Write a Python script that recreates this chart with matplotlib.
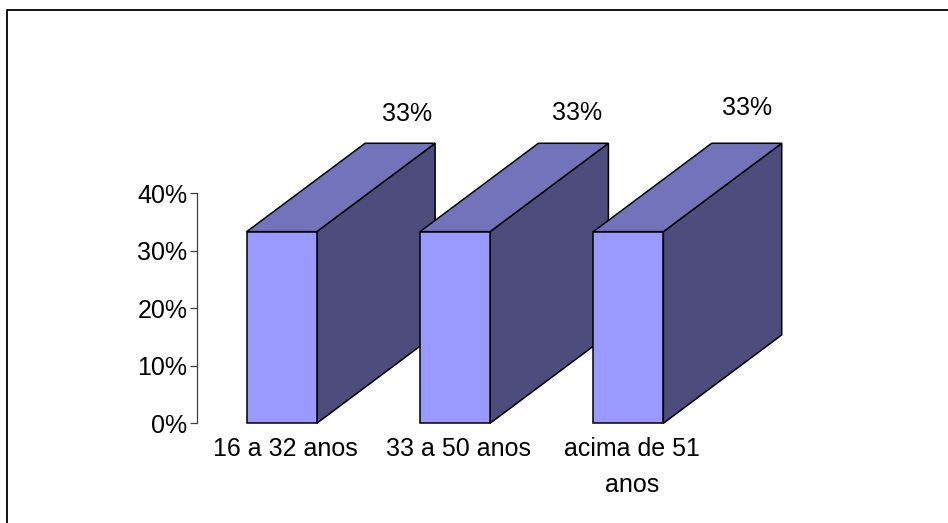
"""Distribuição por faixa etária, barras com efeito 3D desenhadas à mão."""
import matplotlib
matplotlib.use("Agg")
import matplotlib.pyplot as plt
from matplotlib.patches import Polygon
from matplotlib.lines import Line2D

plt.rcParams["font.family"] = ["Liberation Sans", "DejaVu Sans"]

categorias = ["16 a 32 anos", "33 a 50 anos", "acima de 51\nanos"]
valores = [1 / 3, 1 / 3, 1 / 3]
rotulos = ["33%", "33%", "33%"]
yticks = [0.0, 0.1, 0.2, 0.3, 0.4]
ytick_labels = ["0%", "10%", "20%", "30%", "40%"]

FRENTE = "#9999ff"
TOPO = "#7373bb"
LADO = "#4d4d7d"
FS = 18

W = 0.404         # largura da face frontal (unidades de categoria)
DX, DY = 0.683, 0.1537   # deslocamento da profundidade

fig = plt.figure(figsize=(9.48, 5.23), dpi=100)
ax = fig.add_axes([0.2078, 0.1906, 0.67, 0.66])
ax.set_xlim(-0.489, -0.489 + 0.67 * 948 / 173.3)
ax.set_ylim(0, 0.66 * 523 / 575)

for i, v in enumerate(valores):
    x0, x1 = i - W / 2, i + W / 2
    lado = [(x1, 0), (x1 + DX, DY), (x1 + DX, v + DY), (x1, v)]
    topo = [(x0, v), (x1, v), (x1 + DX, v + DY), (x0 + DX, v + DY)]
    frente = [(x0, 0), (x1, 0), (x1, v), (x0, v)]
    for pts, cor in ((lado, LADO), (topo, TOPO), (frente, FRENTE)):
        ax.add_patch(Polygon(pts, closed=True, facecolor=cor, edgecolor="black",
                             lw=1.1, joinstyle="miter", clip_on=False))

# rótulos de valor acima de cada barra (pequenos ajustes em pontos)
nudge_x = [5, 2.5, 0.5]
nudge_y = [21, 22, 25.5]
for i, (v, lab) in enumerate(zip(valores, rotulos)):
    ax.annotate(lab, xy=(i + DX, v + DY), xytext=(nudge_x[i], nudge_y[i]),
                textcoords="offset points", ha="center", va="center",
                fontsize=FS, color="black", annotation_clip=False)

for i, cat in enumerate(categorias):
    ax.text(i + 0.02, -0.024, cat, ha="center", va="top", fontsize=FS,
            linespacing=1.6, color="black")

for s in ("top", "right", "bottom"):
    ax.spines[s].set_visible(False)
ax.spines["left"].set_bounds(0, 0.4)
ax.spines["left"].set_color("#404040")
ax.spines["left"].set_linewidth(0.9)
ax.set_yticks(yticks)
ax.set_yticklabels(ytick_labels, fontsize=FS)
ax.tick_params(axis="y", length=5, width=0.9, color="#404040", pad=2)
ax.set_xticks([])
ax.patch.set_visible(False)

# moldura da área do gráfico
fig.add_artist(Line2D([6.5 / 948, 6.5 / 948, 1.0], [0.0, 1 - 9.5 / 523, 1 - 9.5 / 523],
                      transform=fig.transFigure, color="black", lw=1.3))

fig.savefig("out.png", dpi=100)
